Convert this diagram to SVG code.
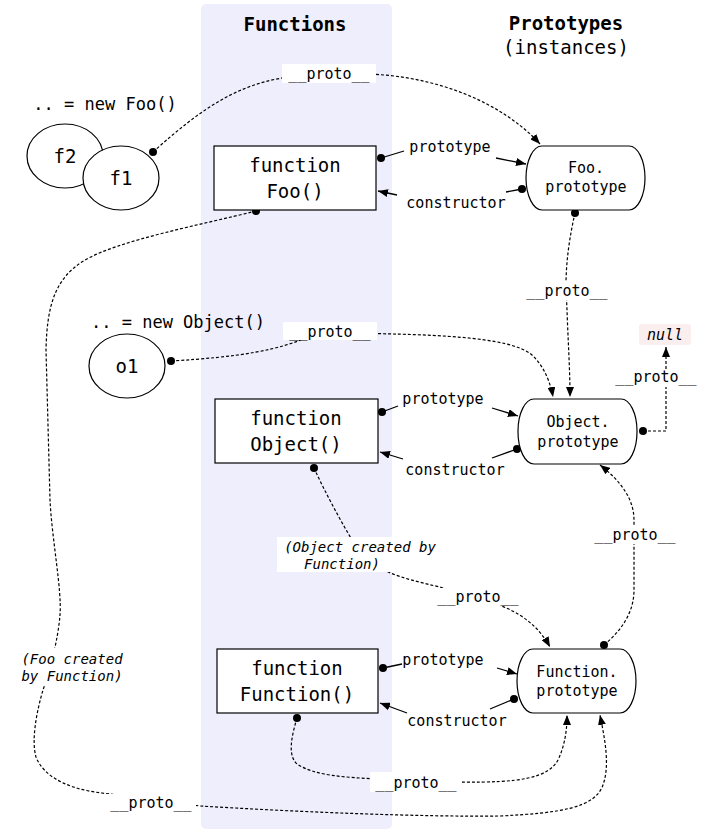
<svg xmlns="http://www.w3.org/2000/svg" width="709" height="830" viewBox="0 0 709 830">
<style>
text{font-family:"DejaVu Sans Mono","Liberation Mono",monospace;fill:#000;text-anchor:middle}
.t{font-size:19px;font-weight:bold}
.big{font-size:19px}
.lab{font-size:15px}
.it{font-size:14px;font-style:italic}
.box{fill:#fff;stroke:#000;stroke-width:1.2}
.dash{fill:none;stroke:#000;stroke-width:1.2;stroke-dasharray:3,2}
.sol{fill:none;stroke:#000;stroke-width:1.3}
.bg{fill:#fff}
.dot{fill:#000}
</style>
<defs>
<marker id="arr" viewBox="0 0 10 8" refX="10" refY="4" markerWidth="10" markerHeight="8" markerUnits="userSpaceOnUse" orient="auto">
<path d="M0,0 L10,4 L0,8 z" fill="#000"/>
</marker>
</defs>
<rect x="201" y="4" width="191" height="825" rx="5" fill="#eeeefc"/>
<text class="t" x="295" y="31">Functions</text>
<text class="t" x="566" y="30">Prototypes</text>
<text class="big" x="566" y="54" style="font-weight:normal">(instances)</text>
<text class="lab" x="105" y="110" style="font-size:17px">.. = new Foo()</text>
<text class="lab" x="178" y="328" style="font-size:17px">.. = new Object()</text>

<g id="connectors">
<path class="dash" d="M153,152 C200,110 240,80 300,76 L360,74 C430,74 500,100 540,144" marker-end="url(#arr)"/>
<path class="dash" d="M575,213 C570,235 566,260 566,285 L567,310 C568,340 570,370 570,397" marker-end="url(#arr)"/>
<path class="dash" d="M171,361 C240,357 280,350 310,336 L330,333 C430,334 510,336 532,355 C545,367 551,385 553,397" marker-end="url(#arr)"/>
<path class="dash" d="M643,431 L666,431 L666,347" marker-end="url(#arr)"/>
<path class="dash" d="M604,645 C622,630 634,612 634,590 L634,520 C634,500 622,482 600,465" marker-end="url(#arr)"/>
<path class="dash" d="M314,468 C325,492 340,520 355,545 C370,570 400,578 440,587 L470,597 C510,605 535,620 550,647" marker-end="url(#arr)"/>
<path class="dash" d="M297,718 C292,735 287,755 297,764 C315,776 345,777 375,779 L460,782 C520,783 548,778 558,760 C565,745 567,730 567,715" marker-end="url(#arr)"/>
<path class="dash" d="M256,211 C200,225 120,240 85,260 C55,278 47,305 46,350 L50,500 C52,540 62,590 60,615 C58,640 50,670 43,690 C37,710 31,740 36,757 C45,780 75,790 102,793 L200,806 C300,812 420,817 500,816 C560,813 595,808 603,785 C610,765 605,740 600,715" marker-end="url(#arr)"/>

<line class="sol" x1="381" y1="158" x2="404" y2="151"/>
<line class="sol" x1="496" y1="158" x2="526" y2="164" marker-end="url(#arr)"/>
<line class="sol" x1="522" y1="189" x2="506" y2="192"/>
<line class="sol" x1="397" y1="195" x2="378" y2="191" marker-end="url(#arr)"/>

<line class="sol" x1="382" y1="412" x2="398" y2="406"/>
<line class="sol" x1="492" y1="408" x2="518" y2="416" marker-end="url(#arr)"/>
<line class="sol" x1="517" y1="449" x2="492" y2="458"/>
<line class="sol" x1="403" y1="459" x2="380" y2="452" marker-end="url(#arr)"/>

<line class="sol" x1="383" y1="668" x2="402" y2="664"/>
<line class="sol" x1="497" y1="668" x2="517" y2="674" marker-end="url(#arr)"/>
<line class="sol" x1="514" y1="699" x2="490" y2="709"/>
<line class="sol" x1="407" y1="713" x2="380" y2="703" marker-end="url(#arr)"/>

<rect class="bg" x="282" y="64" width="94" height="19"/>
<rect class="bg" x="524" y="282" width="86" height="18"/>
<rect class="bg" x="283" y="322" width="94" height="18"/>
<rect class="bg" x="613" y="369" width="86" height="18"/>
<rect class="bg" x="592" y="526" width="86" height="18"/>
<rect class="bg" x="277" y="537" width="163" height="35"/>
<rect class="bg" x="436" y="588" width="86" height="18"/>
<rect class="bg" x="370" y="772" width="92" height="20"/>
<rect class="bg" x="104" y="794" width="92" height="18"/>
<rect class="bg" x="16" y="648" width="112" height="38"/>

<text class="lab" x="329" y="79">__proto__</text>
<text class="lab" x="450" y="152">prototype</text>
<text class="lab" x="456" y="208">constructor</text>
<text class="lab" x="567" y="296">__proto__</text>
<text class="lab" x="330" y="337">__proto__</text>
<text class="lab" x="656" y="382">__proto__</text>
<text class="lab" x="443" y="404">prototype</text>
<text class="lab" x="455" y="475">constructor</text>
<text class="lab" x="635" y="540">__proto__</text>
<text class="it" x="360" y="552">(Object created by</text>
<text class="it" x="342" y="569">Function)</text>
<text class="lab" x="478" y="602">__proto__</text>
<text class="lab" x="443" y="665">prototype</text>
<text class="lab" x="457" y="726">constructor</text>
<text class="lab" x="416" y="788">__proto__</text>
<text class="lab" x="151" y="808">__proto__</text>
<text class="it" x="72" y="664">(Foo created</text>
<text class="it" x="72" y="681">by Function)</text>

<circle class="dot" cx="153" cy="152" r="4"/>
<circle class="dot" cx="575" cy="213" r="4"/>
<circle class="dot" cx="171" cy="361" r="4"/>
<circle class="dot" cx="643" cy="431" r="4"/>
<circle class="dot" cx="604" cy="645" r="4"/>
<circle class="dot" cx="314" cy="468" r="4"/>
<circle class="dot" cx="297" cy="718" r="4"/>
<circle class="dot" cx="256" cy="211" r="4"/>
<circle class="dot" cx="381" cy="158" r="4"/>
<circle class="dot" cx="522" cy="189" r="4"/>
<circle class="dot" cx="382" cy="412" r="4"/>
<circle class="dot" cx="517" cy="449" r="4"/>
<circle class="dot" cx="383" cy="668" r="4"/>
<circle class="dot" cx="514" cy="699" r="4"/>
</g>

<g id="f2"><ellipse class="box" cx="65" cy="156" rx="38" ry="32"/><text class="big" x="65" y="163">f2</text></g>
<g id="f1"><ellipse class="box" cx="121" cy="178" rx="38" ry="32"/><text class="big" x="121" y="185">f1</text></g>
<g id="o1"><ellipse class="box" cx="127" cy="366" rx="38" ry="32"/><text class="big" x="127" y="373">o1</text></g>

<g id="Foo"><rect class="box" x="214" y="146" width="162" height="64"/><text class="big" x="295" y="172">function</text><text class="big" x="295" y="198">Foo()</text></g>
<g id="Object"><rect class="box" x="215" y="399" width="163" height="64"/><text class="big" x="296" y="425">function</text><text class="big" x="296" y="451">Object()</text></g>
<g id="Function"><rect class="box" x="217" y="649" width="161" height="64"/><text class="big" x="297" y="675">function</text><text class="big" x="297" y="701">Function()</text></g>

<g id="FooPrototype"><rect class="box" x="526" y="146" width="119" height="64" rx="16" ry="32"/><text class="lab" x="586" y="173">Foo.</text><text class="lab" x="586" y="192">prototype</text></g>
<g id="ObjectPrototype"><rect class="box" x="518" y="399" width="119" height="65" rx="16" ry="32"/><text class="lab" x="578" y="427">Object.</text><text class="lab" x="578" y="447">prototype</text></g>
<g id="FunctionPrototype"><rect class="box" x="517" y="649" width="119" height="64" rx="16" ry="32"/><text class="lab" x="577" y="677">Function.</text><text class="lab" x="577" y="696">prototype</text></g>

<g id="null"><rect x="639" y="324" width="52" height="21" rx="3" fill="#fbeeee"/><text class="lab" x="665" y="340" style="font-style:italic">null</text></g>
</svg>
